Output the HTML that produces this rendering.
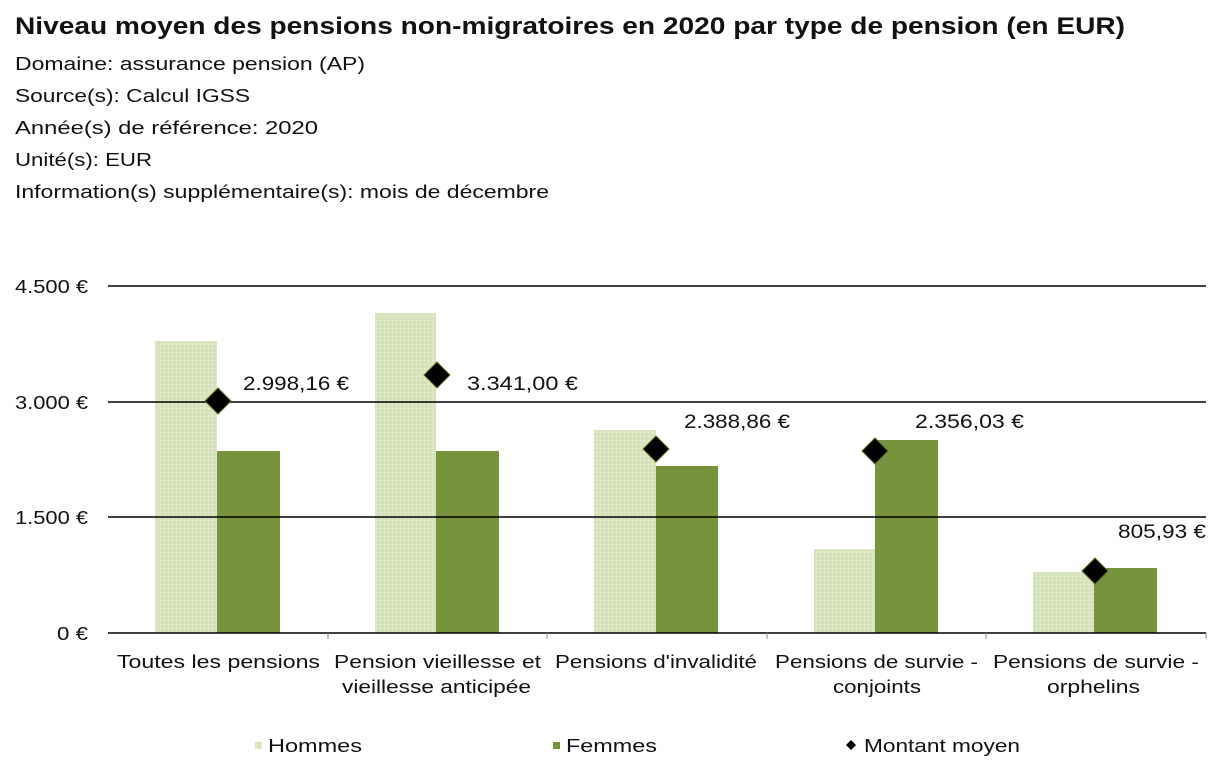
<!DOCTYPE html>
<html><head><meta charset="utf-8"><style>
body{margin:0;background:#fff;}
svg{display:block;font-family:"Liberation Sans",sans-serif;}
</style></head><body>
<svg width="1224" height="777" viewBox="0 0 1224 777">
<defs>
<pattern id="h" width="4" height="4" patternUnits="userSpaceOnUse">
<rect width="4" height="4" fill="#d9e5bf"/>
<rect x="0" y="0" width="1" height="1" fill="#eef3dc"/>
<rect x="2" y="2" width="1" height="1" fill="#c9d8a8"/>
</pattern>
</defs>
<text x="15" y="34" font-size="24" font-weight="bold" fill="#111" textLength="1110" lengthAdjust="spacingAndGlyphs">Niveau moyen des pensions non-migratoires en 2020 par type de pension (en EUR)</text>
<g font-size="18" fill="#111" lengthAdjust="spacingAndGlyphs">
<text x="15" y="70" textLength="350" lengthAdjust="spacingAndGlyphs">Domaine: assurance pension (AP)</text>
<text x="15" y="102" textLength="235" lengthAdjust="spacingAndGlyphs">Source(s): Calcul IGSS</text>
<text x="15" y="134" textLength="303" lengthAdjust="spacingAndGlyphs">Année(s) de référence: 2020</text>
<text x="15" y="166" textLength="137" lengthAdjust="spacingAndGlyphs">Unité(s): EUR</text>
<text x="15" y="198" textLength="534" lengthAdjust="spacingAndGlyphs">Information(s) supplémentaire(s): mois de décembre</text>
</g>
<g font-size="18" fill="#111">
<text x="15" y="293" textLength="73" lengthAdjust="spacingAndGlyphs">4.500 €</text>
<text x="15" y="409" textLength="73" lengthAdjust="spacingAndGlyphs">3.000 €</text>
<text x="15" y="524" textLength="73" lengthAdjust="spacingAndGlyphs">1.500 €</text>
<text x="57" y="640" textLength="31" lengthAdjust="spacingAndGlyphs">0 €</text>
</g>
<g fill="url(#h)">
<rect x="155" y="341" width="62" height="292"/>
<rect x="375" y="313" width="61" height="320"/>
<rect x="594" y="430" width="62" height="203"/>
<rect x="814" y="549" width="61" height="84"/>
<rect x="1033" y="572" width="61" height="61"/>
</g>
<g fill="#77933c">
<rect x="217" y="451" width="63" height="182"/>
<rect x="436" y="451" width="63" height="182"/>
<rect x="656" y="466" width="62" height="167"/>
<rect x="875" y="440" width="63" height="193"/>
<rect x="1094" y="568" width="63" height="65"/>
</g>
<g stroke="#000" stroke-width="1.5">
<line x1="108" y1="286" x2="1206" y2="286"/>
<line x1="108" y1="402" x2="1206" y2="402"/>
<line x1="108" y1="517" x2="1206" y2="517"/>
<line x1="108" y1="633" x2="1206" y2="633"/>
</g>
<g stroke="#888" stroke-width="1">
<line x1="328" y1="633" x2="328" y2="639"/>
<line x1="547" y1="633" x2="547" y2="639"/>
<line x1="767" y1="633" x2="767" y2="639"/>
<line x1="986" y1="633" x2="986" y2="639"/>
<line x1="1206" y1="633" x2="1206" y2="639"/>
</g>
<g fill="#000" stroke="#5a6a20" stroke-width="1">
<path d="M218 388 L231 401 L218 414 L205 401Z"/>
<path d="M437 362 L450 375 L437 388 L424 375Z"/>
<path d="M656 436 L669 449 L656 462 L643 449Z"/>
<path d="M875 438 L888 451 L875 464 L862 451Z"/>
<path d="M1095 558 L1108 571 L1095 584 L1082 571Z"/>
</g>
<g font-size="19" fill="#111">
<text x="243" y="390" textLength="106" lengthAdjust="spacingAndGlyphs">2.998,16 €</text>
<text x="467" y="390" textLength="111" lengthAdjust="spacingAndGlyphs">3.341,00 €</text>
<text x="684" y="428" textLength="106" lengthAdjust="spacingAndGlyphs">2.388,86 €</text>
<text x="915" y="428" textLength="109" lengthAdjust="spacingAndGlyphs">2.356,03 €</text>
<text x="1118" y="538" textLength="88" lengthAdjust="spacingAndGlyphs">805,93 €</text>
</g>
<g font-size="18" fill="#111">
<text x="117" y="668" textLength="203" lengthAdjust="spacingAndGlyphs">Toutes les pensions</text>
<text x="334" y="668" textLength="207" lengthAdjust="spacingAndGlyphs">Pension vieillesse et</text>
<text x="342" y="693" textLength="189" lengthAdjust="spacingAndGlyphs">vieillesse anticipée</text>
<text x="555" y="668" textLength="202" lengthAdjust="spacingAndGlyphs">Pensions d'invalidité</text>
<text x="775" y="668" textLength="203" lengthAdjust="spacingAndGlyphs">Pensions de survie -</text>
<text x="833" y="693" textLength="88" lengthAdjust="spacingAndGlyphs">conjoints</text>
<text x="993" y="668" textLength="206" lengthAdjust="spacingAndGlyphs">Pensions de survie -</text>
<text x="1047" y="693" textLength="93" lengthAdjust="spacingAndGlyphs">orphelins</text>
</g>
<rect x="255" y="742" width="7" height="7" fill="url(#h)"/>
<rect x="553" y="742" width="7" height="7" fill="#77933c"/>
<path d="M851 740 L856 745 L851 750 L846 745Z" fill="#000"/>
<g font-size="18" fill="#111">
<text x="268" y="752" textLength="94" lengthAdjust="spacingAndGlyphs">Hommes</text>
<text x="566" y="752" textLength="91" lengthAdjust="spacingAndGlyphs">Femmes</text>
<text x="864" y="752" textLength="156" lengthAdjust="spacingAndGlyphs">Montant moyen</text>
</g>
</svg>
</body></html>
